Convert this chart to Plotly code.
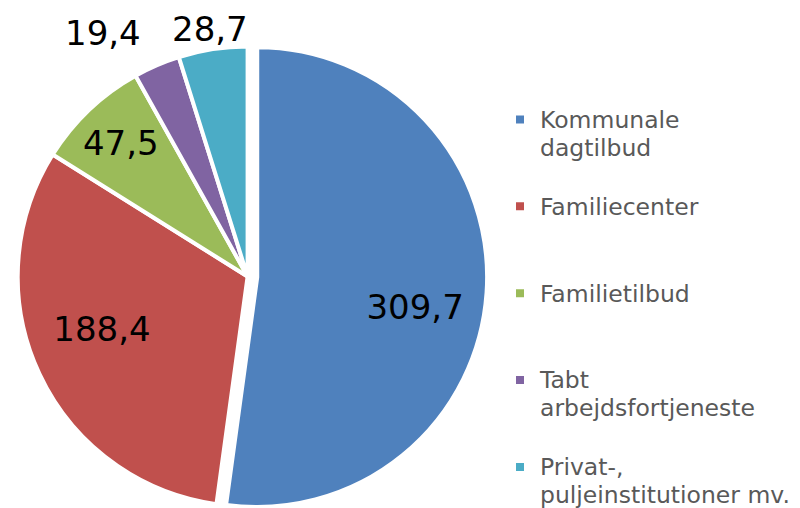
import math
import plotly.graph_objects as go

categories = ["Kommunale dagtilbud", "Familiecenter", "Familietilbud",
              "Tabt arbejdsfortjeneste", "Privat-, puljeinstitutioner mv."]
legend_lines = [["Kommunale", "dagtilbud"], ["Familiecenter"], ["Familietilbud"],
                ["Tabt", "arbejdsfortjeneste"], ["Privat-,", "puljeinstitutioner mv."]]
values = [309.7, 188.4, 47.5, 19.4, 28.7]
colors = ["#4F81BD", "#C0504D", "#9BBB59", "#8064A2", "#4BACC6"]
pulls = [0.042, 0, 0, 0, 0]

NB = "\u00a0"


def legend_label(lines, n_lines):
    styled = ["<span style='font-size:23.5px'>" + ln + "</span>" for ln in lines]
    styled += [NB] * (n_lines - len(lines))
    return "<br>".join(styled)


# every entry but the last is padded to three lines -> even legend spacing
legend_labels = [legend_label(ls, 3 if k < len(legend_lines) - 1 else len(ls))
                 for k, ls in enumerate(legend_lines)]

# labels shown inside the three large slices (padding only nudges placement)
text_templates = [NB + "<br>" + NB * 8 + "%{value:.1f}", "%{value:.1f}" + NB * 6,
                  "%{value:.1f}", "", ""]
outside = [False, False, False, True, True]

# pie geometry (paper pixels)
W, H = 800, 508
dom_x = [0, 0.599]
dom_y = [0, 0.943]
box = min(W * (dom_x[1] - dom_x[0]), H * (dom_y[1] - dom_y[0])) / 2
R = box / (1 + max(pulls))
CX = W * (dom_x[0] + dom_x[1]) / 2
CY = H * (1 - (dom_y[0] + dom_y[1]) / 2)

fig = go.Figure(go.Pie(
    labels=legend_labels,
    values=values,
    sort=False,
    direction="clockwise",
    rotation=0,
    pull=pulls,
    marker=dict(colors=colors, line=dict(color="white", width=4)),
    texttemplate=text_templates,
    textposition="inside",
    insidetextorientation="horizontal",
    textfont=dict(family="DejaVu Sans", size=34, color="black"),
    domain=dict(x=dom_x, y=dom_y),
    automargin=False,
    hoverinfo="value",
))

# outside-end data labels for the two small slices
total = sum(values)
label_style = {3: (265, "right"), 4: (250, "center")}
cum = 0.0
for i, v in enumerate(values):
    mid = (cum + v / 2) / total * 2 * math.pi
    cum += v
    if not outside[i]:
        continue
    dist, xa = label_style[i]
    px = CX + dist * math.sin(mid)
    py = CY - dist * math.cos(mid)
    fig.add_annotation(
        x=px / W, y=1 - py / H, xref="paper", yref="paper",
        text=f"{v:.1f}".replace(".", ","), showarrow=False,
        xanchor=xa, yanchor="middle",
        font=dict(family="DejaVu Sans", size=34, color="black"),
    )

fig.update_layout(
    width=W, height=H,
    margin=dict(l=0, r=0, t=0, b=0, autoexpand=False),
    paper_bgcolor="white",
    separators=",.",
    uniformtext=dict(minsize=34, mode="show"),
    showlegend=True,
    legend=dict(
        x=0.615, xanchor="left", y=0, yanchor="bottom",
        font=dict(family="DejaVu Sans", size=21.5, color="#595959"),
        valign="top",
        bgcolor="rgba(0,0,0,0)",
    ),
)

fig.write_html("out.html")
